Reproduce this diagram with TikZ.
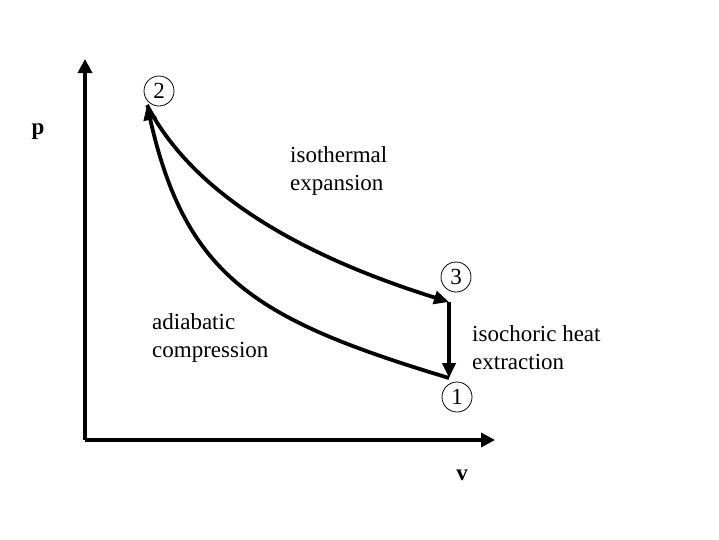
\documentclass[tikz,border=0pt]{standalone}
\usepackage{fontspec}
\setmainfont{Liberation Serif}
\usetikzlibrary{arrows.meta}
\begin{document}
\begin{tikzpicture}[x=1pt,y=-1pt,
  axis/.style={line width=3.5pt,-{Triangle[length=14pt,width=14pt]}},
  curve/.style={line width=3.8pt,-{Triangle[length=15pt,width=13pt]}},
  state/.style={draw,circle,line width=0.8pt,minimum size=30pt,inner sep=0pt,font=\fontsize{23}{28}\selectfont},
  lbl/.style={anchor=base west,inner sep=0pt,align=left,font=\fontsize{23}{28}\selectfont},
  axlbl/.style={anchor=base,inner sep=0pt,font=\fontsize{23}{28}\selectfont\bfseries}]
\useasboundingbox (0,0) rectangle (719,539);
% axes
\coordinate (o) at (85,440);
\coordinate (ytop) at (85,59);
\coordinate (xend) at (495,440);
\draw[axis] (o) -- (ytop);
\draw[axis] (o) -- (xend);
\node[axlbl] (p) at (38,134) {p};
\node[axlbl] (v) at (462,480) {v};
% states
\node[state] (n2) at (159,91) {2};
\node[state] (n3) at (456,277) {3};
\node[state] (n1) at (457,397) {1};
\coordinate (p2) at (147,105);
\coordinate (p3) at (449,302);
\coordinate (p1) at (449,378);
% processes
\draw[curve] (p2) .. controls (194,196) and (305,257) .. (p3);
\draw[curve] (p3) -- (p1);
\draw[curve] (p1) .. controls (257,320) and (186,278) .. (p2);
% labels
\node[lbl] (iso) at (290,190) {isothermal\\expansion};
\node[lbl] (adi) at (152,357) {adiabatic\\compression};
\node[lbl] (ich) at (472,369) {isochoric heat\\extraction};
\end{tikzpicture}
\end{document}
